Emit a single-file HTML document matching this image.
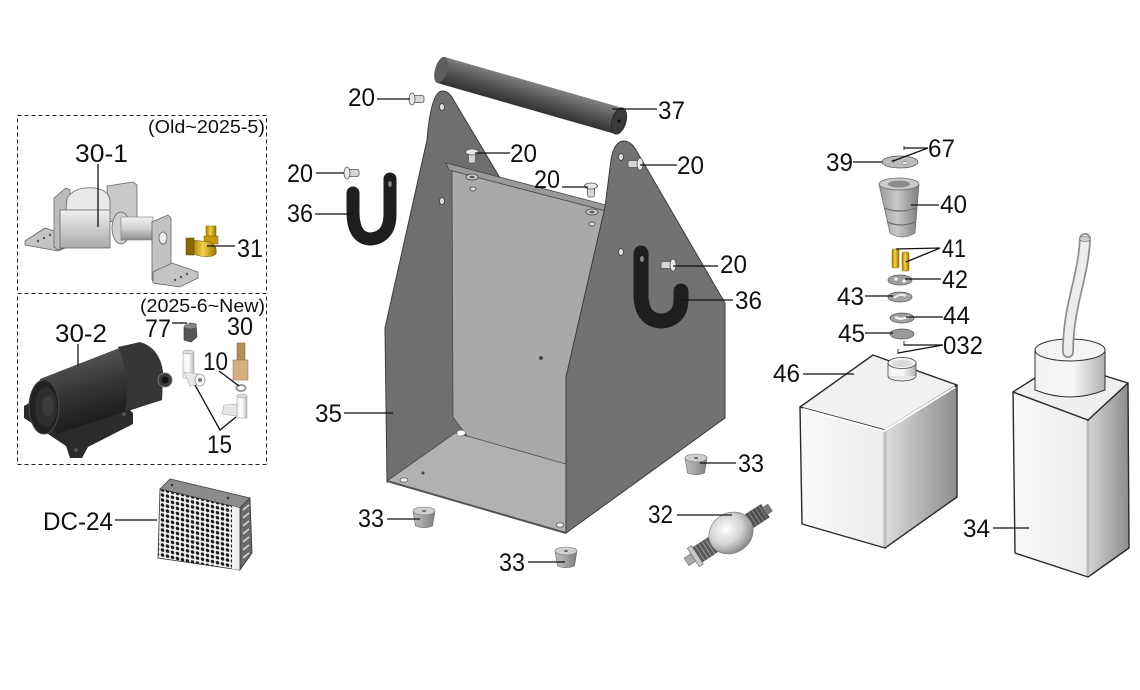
<!DOCTYPE html>
<html><head><meta charset="utf-8"><style>
html,body{margin:0;padding:0;background:#fff;}
svg{display:block;}
text{font-family:"Liberation Sans",sans-serif;font-size:25px;fill:#111;}
.sm{font-size:18px;}
.ld{stroke:#111;stroke-width:1.3;fill:none;}
</style></head><body>
<svg width="1140" height="690" viewBox="0 0 1140 690" xmlns="http://www.w3.org/2000/svg">
<defs>
<linearGradient id="gRod" gradientUnits="userSpaceOnUse" x1="444" y1="57" x2="436" y2="84">
<stop offset="0" stop-color="#7e7e7e"/><stop offset="0.45" stop-color="#545454"/><stop offset="1" stop-color="#2c2c2c"/></linearGradient>
<linearGradient id="gTankR" gradientUnits="userSpaceOnUse" x1="885" y1="0" x2="958" y2="0">
<stop offset="0" stop-color="#dcdcdc"/><stop offset="1" stop-color="#8c8c8c"/></linearGradient>
<linearGradient id="gTankL" x1="0" y1="0" x2="1" y2="0">
<stop offset="0" stop-color="#f9f9f9"/><stop offset="1" stop-color="#ececec"/></linearGradient>
<linearGradient id="gBotR" gradientUnits="userSpaceOnUse" x1="1088" y1="0" x2="1130" y2="0">
<stop offset="0" stop-color="#d4d4d4"/><stop offset="1" stop-color="#8a8a8a"/></linearGradient>
<linearGradient id="gCap" gradientUnits="userSpaceOnUse" x1="1035" y1="0" x2="1105" y2="0">
<stop offset="0" stop-color="#f2f2f2"/><stop offset="0.55" stop-color="#f6f6f6"/><stop offset="1" stop-color="#b0b0b0"/></linearGradient>
<linearGradient id="gNeck" gradientUnits="userSpaceOnUse" x1="888" y1="0" x2="916" y2="0">
<stop offset="0" stop-color="#f2f2f2"/><stop offset="0.55" stop-color="#f6f6f6"/><stop offset="1" stop-color="#b0b0b0"/></linearGradient>
<linearGradient id="gFoot" x1="0" y1="0" x2="1" y2="0">
<stop offset="0" stop-color="#bdbdbd"/><stop offset="0.4" stop-color="#a8a8a8"/><stop offset="1" stop-color="#7e7e7e"/></linearGradient>
<radialGradient id="gBulb" cx="0.45" cy="0.35" r="0.7">
<stop offset="0" stop-color="#ffffff"/><stop offset="0.5" stop-color="#d5d5d5"/><stop offset="1" stop-color="#7a7a7a"/></radialGradient>
<linearGradient id="gBrass" x1="0" y1="0" x2="1" y2="0">
<stop offset="0" stop-color="#a87c00"/><stop offset="0.45" stop-color="#f3d24a"/><stop offset="1" stop-color="#9a7000"/></linearGradient>
<linearGradient id="gCone" x1="0" y1="0" x2="1" y2="0">
<stop offset="0" stop-color="#9a9a9a"/><stop offset="0.45" stop-color="#c9c9c9"/><stop offset="1" stop-color="#7e7e7e"/></linearGradient>
<linearGradient id="gPump" gradientUnits="userSpaceOnUse" x1="80" y1="355" x2="100" y2="425">
<stop offset="0" stop-color="#555"/><stop offset="0.5" stop-color="#333"/><stop offset="1" stop-color="#1a1a1a"/></linearGradient>
<linearGradient id="gSol" x1="0" y1="0" x2="0" y2="1">
<stop offset="0" stop-color="#efefef"/><stop offset="1" stop-color="#a9a9a9"/></linearGradient>
<linearGradient id="gShaft" x1="0" y1="0" x2="0" y2="1">
<stop offset="0" stop-color="#f4f4f4"/><stop offset="0.5" stop-color="#d0d0d0"/><stop offset="1" stop-color="#8e8e8e"/></linearGradient>
<linearGradient id="gWhite" x1="0" y1="0" x2="1" y2="0">
<stop offset="0" stop-color="#f0f0f0"/><stop offset="0.5" stop-color="#ffffff"/><stop offset="1" stop-color="#b5b5b5"/></linearGradient>
<pattern id="grid" width="5" height="5" patternUnits="userSpaceOnUse" patternTransform="skewY(13)">
<rect width="5" height="5" fill="#f4f4f4"/><circle cx="2.5" cy="2.5" r="1.8" fill="#1a1a1a"/></pattern>
<g id="scrH"><rect x="0" y="-3.5" width="12" height="7" rx="2" fill="#d6d6d6" stroke="#555" stroke-width="0.8"/><ellipse cx="0" cy="0" rx="3" ry="6" fill="#e8e8e8" stroke="#555" stroke-width="0.8"/></g>
<g id="scrHr"><rect x="-12" y="-3.5" width="12" height="7" rx="2" fill="#d6d6d6" stroke="#555" stroke-width="0.8"/><ellipse cx="0" cy="0" rx="3" ry="6" fill="#e8e8e8" stroke="#555" stroke-width="0.8"/></g>
<g id="scrV"><rect x="-3.5" y="0" width="7" height="11" rx="2" fill="#d6d6d6" stroke="#555" stroke-width="0.8"/><ellipse cx="0" cy="0" rx="6.5" ry="3" fill="#e8e8e8" stroke="#555" stroke-width="0.8"/></g>
<g id="foot"><path d="M-11,-6 L11,-6 L8.5,9 Q0,12.5 -8.5,9 Z" fill="url(#gFoot)" stroke="#666" stroke-width="0.6"/><ellipse cx="0" cy="-6" rx="11" ry="4" fill="#cfcfcf" stroke="#777" stroke-width="0.6"/><ellipse cx="0" cy="-6" rx="2" ry="1" fill="#666"/></g>
</defs>
<rect width="1140" height="690" fill="#fff"/>

<!-- dashed boxes -->
<rect x="17.5" y="115.5" width="249" height="178" fill="none" stroke="#222" stroke-width="1" stroke-dasharray="4 3"/>
<rect x="17.5" y="293.5" width="249" height="171" fill="none" stroke="#222" stroke-width="1" stroke-dasharray="4 3"/>
<text class="sm" x="148" y="133" textLength="117" lengthAdjust="spacingAndGlyphs">(Old~2025-5)</text>
<text class="sm" x="140" y="312" textLength="125" lengthAdjust="spacingAndGlyphs">(2025-6~New)</text>

<!-- Solenoid 30-1 -->
<polygon points="25,241 45,228 70,236 70,246 58,251 25,245" fill="#c4c4c4" stroke="#666" stroke-width="0.8"/>
<circle cx="38" cy="241" r="1.2" fill="#555"/><circle cx="44" cy="238" r="1.2" fill="#555"/><circle cx="50" cy="235" r="1.2" fill="#555"/>
<polygon points="54,198 66,188 70,190 70,246 58,250 54,247" fill="#bcbcbc" stroke="#666" stroke-width="0.8"/>
<polygon points="107,186 133,182 137,185 137,218 108,222" fill="#c9c9c9" stroke="#666" stroke-width="0.8"/>
<path d="M66,210 L67,198 Q75,186 95,188 Q108,190 110,200 L110,212 Z" fill="#e9e9e9" stroke="#666" stroke-width="0.8"/>
<rect x="60" y="210" width="50" height="38" fill="url(#gSol)" stroke="#666" stroke-width="0.8"/>
<ellipse cx="121" cy="228" rx="9" ry="16" fill="#cfcfcf" stroke="#666" stroke-width="0.8"/>
<rect x="121" y="217" width="32" height="23" fill="url(#gShaft)" stroke="#777" stroke-width="0.6"/>
<polygon points="152,222 168,215 171,218 171,280 155,283 152,280" fill="#c2c2c2" stroke="#666" stroke-width="0.8"/>
<ellipse cx="163" cy="238" rx="4" ry="6" fill="#eee" stroke="#666" stroke-width="0.8"/>
<polygon points="153,272 172,263 198,272 198,278 180,287 153,283" fill="#c4c4c4" stroke="#666" stroke-width="0.8"/>
<circle cx="175" cy="280" r="1.2" fill="#555"/><circle cx="181" cy="277" r="1.2" fill="#555"/><circle cx="187" cy="274" r="1.2" fill="#555"/>
<!-- 31 brass -->
<rect x="206" y="226" width="10" height="12" fill="url(#gBrass)" stroke="#7a5a00" stroke-width="0.5"/>
<rect x="204" y="236" width="14" height="8" fill="#c99a10" stroke="#7a5a00" stroke-width="0.5"/>
<path d="M192,240 L210,242 Q218,246 216,254 Q212,258 200,256 L192,254 Z" fill="url(#gBrass)" stroke="#7a5a00" stroke-width="0.5"/>
<rect x="186" y="238" width="8" height="17" fill="#8a6800" stroke="#5a4500" stroke-width="0.5"/>
<text x="75" y="162" textLength="53" lengthAdjust="spacingAndGlyphs">30-1</text>
<line class="ld" x1="98" y1="164" x2="98" y2="227"/>
<text x="237" y="257" textLength="26" lengthAdjust="spacingAndGlyphs">31</text>
<line class="ld" x1="207" y1="246" x2="235" y2="246"/>

<!-- Pump 30-2 -->
<path d="M24,406 L36,399 L62,418 L118,398 L133,413 L133,424 L88,447 L82,458 L70,458 L66,446 L24,418 Z" fill="#2a2a2a"/>
<circle cx="32" cy="412" r="2" fill="#555"/><circle cx="124" cy="414" r="2" fill="#555"/><circle cx="76" cy="450" r="2" fill="#555"/>
<path d="M40,379 L122,347 L140,343 Q160,349 163,372 L162,400 L56,434 Z" fill="url(#gPump)"/>
<path d="M118,347 L140,342 Q160,348 163,372 L162,400 L125,411 Q132,380 118,347 Z" fill="#363636"/>
<ellipse cx="44" cy="407" rx="15" ry="27" fill="#222" stroke="#4a4a4a" stroke-width="1"/>
<ellipse cx="46" cy="407" rx="11" ry="20" fill="#2e2e2e"/>
<ellipse cx="48" cy="406" rx="6" ry="10" fill="#3c3c3c"/>
<circle cx="165" cy="380" r="7" fill="#3a3a3a" stroke="#777" stroke-width="1"/>
<circle cx="165" cy="380" r="3.5" fill="#111"/>
<text x="55" y="342" textLength="52" lengthAdjust="spacingAndGlyphs">30-2</text>
<line class="ld" x1="78" y1="344" x2="78" y2="366"/>

<!-- fittings -->
<path d="M184,327 L190,323 L196,324 L197,337 L191,342 L184,340 Z" fill="#555" stroke="#333" stroke-width="0.6"/>
<ellipse cx="190" cy="326" rx="6" ry="2.5" fill="#888"/>
<text x="145" y="337" textLength="26" lengthAdjust="spacingAndGlyphs">77</text>
<line class="ld" x1="172" y1="323" x2="187" y2="323"/>
<rect x="237" y="343" width="8" height="18" fill="#b58c5a" stroke="#7a5a30" stroke-width="0.5"/>
<rect x="233" y="360" width="15" height="20" fill="#d4b080" stroke="#8a6a40" stroke-width="0.5"/>
<text x="227" y="335" textLength="26" lengthAdjust="spacingAndGlyphs">30</text>
<ellipse cx="241" cy="388" rx="4.5" ry="3" fill="none" stroke="#999" stroke-width="2"/>
<text x="203" y="370" textLength="25" lengthAdjust="spacingAndGlyphs">10</text>
<line class="ld" x1="219" y1="371" x2="239" y2="386"/>
<rect x="183" y="352" width="11" height="26" fill="url(#gWhite)" stroke="#aaa" stroke-width="0.6"/>
<ellipse cx="188.5" cy="352" rx="5.5" ry="2" fill="#ddd" stroke="#999" stroke-width="0.5"/>
<path d="M184,372 L198,374 L204,384 L190,386 Z" fill="#e8e8e8" stroke="#aaa" stroke-width="0.6"/>
<ellipse cx="200" cy="380" rx="5" ry="6" fill="#f2f2f2" stroke="#999" stroke-width="0.8"/>
<circle cx="200" cy="380" r="2" fill="#777"/>
<rect x="237" y="396" width="10" height="22" fill="url(#gWhite)" stroke="#aaa" stroke-width="0.6"/>
<ellipse cx="242" cy="396" rx="5" ry="2" fill="#ddd" stroke="#999" stroke-width="0.5"/>
<path d="M237,404 L224,405 L222,414 L237,416 Z" fill="#e6e6e6" stroke="#aaa" stroke-width="0.6"/>
<text x="207" y="453" textLength="25" lengthAdjust="spacingAndGlyphs">15</text>
<polyline class="ld" points="195,385 220,430 236,417"/>

<!-- DC-24 -->
<polygon points="160,489 170,479 250,498 240,508" fill="#8c8c8c" stroke="#444" stroke-width="0.8"/>
<circle cx="172" cy="485" r="1.3" fill="#333"/><circle cx="228" cy="498" r="1.3" fill="#333"/>
<polygon points="160,489 240,508 240,570 158,558" fill="url(#grid)" stroke="#333" stroke-width="0.8"/>
<polygon points="232,506 240,508 240,570 232,569" fill="#f0f0f0"/>
<polygon points="240,508 250,498 252,553 240,570" fill="#6a6a6a" stroke="#333" stroke-width="0.8"/>
<path d="M243,510 L249,505 M243,518 L249,513 M243,526 L249,521 M243,534 L249,529 M243,542 L249,537 M243,550 L249,545 M243,558 L249,553" stroke="#ddd" stroke-width="1.5"/>
<text x="43" y="530" textLength="70" lengthAdjust="spacingAndGlyphs">DC-24</text>
<line class="ld" x1="115" y1="520" x2="157" y2="520"/>

<!-- Main box 35 -->
<path d="M385,328 L427,140 Q431,92 442,91 Q449,91 453,99 L500,178 L470,437 L387,482 Z" fill="#6f6f6f" stroke="#3c3c3c" stroke-width="1"/>
<path d="M452,170 L606,211 L566,470 L467,436 L453,417 Z" fill="#a9a9a9" stroke="#4a4a4a" stroke-width="0.8"/>
<polygon points="446,163 606,205 606,211 449,170" fill="#9a9a9a" stroke="#444" stroke-width="0.8"/>
<ellipse cx="472" cy="177" rx="6" ry="3" fill="#cfcfcf" stroke="#444" stroke-width="0.8"/>
<ellipse cx="472" cy="177" rx="2.5" ry="1.3" fill="#555"/>
<ellipse cx="473" cy="189" rx="3" ry="2" fill="#ddd" stroke="#444" stroke-width="0.7"/>
<ellipse cx="592" cy="212" rx="6" ry="3" fill="#cfcfcf" stroke="#444" stroke-width="0.8"/>
<ellipse cx="592" cy="212" rx="2.5" ry="1.3" fill="#555"/>
<ellipse cx="592" cy="224" rx="3" ry="2" fill="#ddd" stroke="#444" stroke-width="0.7"/>
<circle cx="541" cy="358" r="2" fill="#444"/>
<path d="M387,481 L455,433 L467,436 L566,464 L566,533 Z" fill="#b1b1b1" stroke="#4a4a4a" stroke-width="0.8"/>
<path d="M387,481 L566,533" stroke="#555" stroke-width="2"/>
<ellipse cx="461" cy="433" rx="4" ry="2.5" fill="#fff"/>
<ellipse cx="404" cy="480" rx="4" ry="2.2" fill="#eee" stroke="#444" stroke-width="0.7"/>
<circle cx="423" cy="473" r="1.5" fill="#444"/>
<ellipse cx="560" cy="525" rx="4" ry="2.2" fill="#eee" stroke="#444" stroke-width="0.7"/>
<ellipse cx="442" cy="107" rx="2.5" ry="3.5" fill="#ddd" stroke="#333" stroke-width="0.7"/>
<ellipse cx="442" cy="201" rx="2.5" ry="3.5" fill="#ddd" stroke="#333" stroke-width="0.7"/>
<path d="M566,377 L605,207 L611,160 Q614,142 623,141 Q631,141 636,150 L725,303 L725,418 L566,533 Z" fill="#727272" stroke="#3c3c3c" stroke-width="1"/>
<ellipse cx="621" cy="157" rx="2.5" ry="3.5" fill="#ddd" stroke="#333" stroke-width="0.7"/>
<ellipse cx="621" cy="252" rx="2.5" ry="3.5" fill="#ddd" stroke="#333" stroke-width="0.7"/>
<text x="315" y="422" textLength="27" lengthAdjust="spacingAndGlyphs">35</text>
<line class="ld" x1="344" y1="413" x2="393" y2="413"/>

<!-- Rod 37 -->
<line x1="441" y1="70" x2="619" y2="121" stroke="url(#gRod)" stroke-width="27"/>
<ellipse cx="441" cy="70" rx="6" ry="13.5" transform="rotate(16 441 70)" fill="#5e5e5e"/>
<ellipse cx="619" cy="121" rx="7" ry="13.5" transform="rotate(16 619 121)" fill="#3a3a3a" stroke="#222" stroke-width="0.8"/>
<circle cx="619" cy="121" r="1.6" fill="#111"/>
<text x="658" y="119" textLength="27" lengthAdjust="spacingAndGlyphs">37</text>
<line class="ld" x1="612" y1="109" x2="657" y2="109"/>

<!-- screws 20 -->
<use href="#scrH" x="412" y="99"/>
<text x="348" y="106" textLength="27" lengthAdjust="spacingAndGlyphs">20</text>
<line class="ld" x1="377" y1="99" x2="410" y2="99"/>
<use href="#scrV" x="472" y="152"/>
<text x="510" y="162" textLength="27" lengthAdjust="spacingAndGlyphs">20</text>
<line class="ld" x1="475" y1="153" x2="510" y2="153"/>
<use href="#scrHr" x="640" y="164"/>
<text x="677" y="174" textLength="27" lengthAdjust="spacingAndGlyphs">20</text>
<line class="ld" x1="640" y1="165" x2="677" y2="165"/>
<use href="#scrV" x="591" y="186"/>
<text x="534" y="188" textLength="26" lengthAdjust="spacingAndGlyphs">20</text>
<line class="ld" x1="562" y1="187" x2="588" y2="187"/>
<use href="#scrH" x="347" y="173"/>
<text x="287" y="182" textLength="26" lengthAdjust="spacingAndGlyphs">20</text>
<line class="ld" x1="316" y1="173" x2="344" y2="173"/>
<use href="#scrHr" x="673" y="265"/>
<text x="720" y="273" textLength="27" lengthAdjust="spacingAndGlyphs">20</text>
<line class="ld" x1="673" y1="266" x2="718" y2="266"/>

<!-- brackets 36 -->
<path d="M353,193 L353,214 Q354,239 371,239 Q390,237 390,214 L390,179" fill="none" stroke="#1e1e1e" stroke-width="13" stroke-linecap="round"/>
<ellipse cx="390" cy="184" rx="1.8" ry="3" fill="#888"/>
<text x="287" y="222" textLength="26" lengthAdjust="spacingAndGlyphs">36</text>
<line class="ld" x1="315" y1="214" x2="353" y2="214"/>
<path d="M641,253 L641,298 Q643,321 662,321 Q681,319 681,299 L681,291" fill="none" stroke="#1e1e1e" stroke-width="15" stroke-linecap="round"/>
<ellipse cx="642" cy="259" rx="2" ry="3" fill="#888"/>
<text x="735" y="309" textLength="27" lengthAdjust="spacingAndGlyphs">36</text>
<line class="ld" x1="682" y1="300" x2="733" y2="300"/>

<!-- feet 33 -->
<use href="#foot" x="696" y="464"/>
<text x="738" y="472" textLength="26" lengthAdjust="spacingAndGlyphs">33</text>
<line class="ld" x1="700" y1="463" x2="736" y2="463"/>
<use href="#foot" x="424" y="517"/>
<text x="358" y="527" textLength="26" lengthAdjust="spacingAndGlyphs">33</text>
<line class="ld" x1="387" y1="519" x2="420" y2="519"/>
<use href="#foot" x="566" y="557"/>
<text x="499" y="571" textLength="26" lengthAdjust="spacingAndGlyphs">33</text>
<line class="ld" x1="528" y1="562" x2="565" y2="562"/>

<!-- 32 bulb -->
<g transform="translate(731,533) rotate(-33)">
<rect x="14" y="-8" width="27" height="16" fill="#4e4e4e"/>
<path d="M18,-8 v16 M22,-8 v16 M26,-8 v16 M30,-8 v16 M34,-8 v16 M38,-8 v16" stroke="#888" stroke-width="1"/>
<rect x="40" y="-4.5" width="7" height="9" fill="#777"/>
<rect x="-40" y="-9" width="24" height="18" fill="#5a5a5a"/>
<path d="M-37,-9 v18 M-33,-9 v18 M-29,-9 v18 M-25,-9 v18 M-21,-9 v18" stroke="#999" stroke-width="1"/>
<rect x="-45" y="-11" width="5" height="22" fill="#c8c8c8" stroke="#666" stroke-width="0.6"/>
<rect x="-53" y="-4.5" width="8" height="9" fill="#aaa" stroke="#666" stroke-width="0.6"/>
<ellipse cx="0" cy="0" rx="23" ry="20" fill="url(#gBulb)" stroke="#777" stroke-width="0.6"/>
</g>
<text x="648" y="523" textLength="25" lengthAdjust="spacingAndGlyphs">32</text>
<line class="ld" x1="677" y1="515" x2="732" y2="515"/>

<!-- right column small parts -->
<ellipse cx="900" cy="162" rx="18" ry="6" fill="#bdbdbd" stroke="#555" stroke-width="0.8"/>
<circle cx="893" cy="161" r="1.5" fill="#555"/><ellipse cx="905" cy="163" rx="3" ry="1.5" fill="#eee" stroke="#666" stroke-width="0.5"/>
<rect x="903" y="146" width="2" height="4" fill="#999"/>
<text x="928" y="157" textLength="27" lengthAdjust="spacingAndGlyphs">67</text>
<polyline class="ld" points="904,148 928,148 893,161"/>
<text x="826" y="171" textLength="27" lengthAdjust="spacingAndGlyphs">39</text>
<line class="ld" x1="853" y1="162" x2="882" y2="162"/>

<path d="M879,184 L890,233 Q902,241 915,233 L919,184 Z" fill="url(#gCone)" stroke="#666" stroke-width="0.7"/>
<path d="M884,208 Q900,214 916,208 M887,222 Q901,228 915,222" stroke="#6a6a6a" stroke-width="1.2" fill="none"/>
<ellipse cx="899" cy="184" rx="20" ry="6" fill="#c9c9c9" stroke="#666" stroke-width="0.7"/>
<ellipse cx="899" cy="184" rx="11" ry="3.5" fill="#8c8c8c"/>
<text x="940" y="213" textLength="27" lengthAdjust="spacingAndGlyphs">40</text>
<line class="ld" x1="911" y1="205" x2="939" y2="205"/>

<rect x="892" y="249" width="7" height="19" rx="1.5" fill="url(#gBrass)" stroke="#8a6a00" stroke-width="0.5"/>
<rect x="902" y="252" width="7" height="19" rx="1.5" fill="url(#gBrass)" stroke="#8a6a00" stroke-width="0.5"/>
<text x="942" y="257" textLength="24" lengthAdjust="spacingAndGlyphs">41</text>
<polyline class="ld" points="896,249 940,248 906,262"/>

<ellipse cx="900" cy="280" rx="12" ry="5" fill="#9e9e9e" stroke="#555" stroke-width="0.7"/>
<circle cx="896" cy="279" r="1.8" fill="#eee"/><circle cx="904" cy="281" r="1.8" fill="#eee"/>
<text x="942" y="288" textLength="26" lengthAdjust="spacingAndGlyphs">42</text>
<line class="ld" x1="905" y1="279" x2="941" y2="279"/>

<ellipse cx="900" cy="297" rx="12" ry="5" fill="#a5a5a5" stroke="#555" stroke-width="0.7"/>
<path d="M894,298 Q900,293 906,296" stroke="#eee" stroke-width="2" fill="none"/>
<text x="837" y="305" textLength="27" lengthAdjust="spacingAndGlyphs">43</text>
<line class="ld" x1="865" y1="296" x2="893" y2="296"/>

<ellipse cx="902" cy="318" rx="12" ry="5" fill="#a0a0a0" stroke="#555" stroke-width="0.7"/>
<path d="M895,317 Q902,321 909,316" stroke="#f2f2f2" stroke-width="2.2" fill="none"/>
<text x="943" y="324" textLength="27" lengthAdjust="spacingAndGlyphs">44</text>
<line class="ld" x1="906" y1="317" x2="943" y2="317"/>

<ellipse cx="902" cy="334" rx="12" ry="5" fill="#999" stroke="#555" stroke-width="0.7"/>
<text x="838" y="342" textLength="27" lengthAdjust="spacingAndGlyphs">45</text>
<line class="ld" x1="865" y1="333" x2="893" y2="333"/>

<rect x="903" y="341" width="2" height="5" fill="#999"/>
<rect x="897" y="349" width="2" height="5" fill="#999"/>
<text x="943" y="354" textLength="40" lengthAdjust="spacingAndGlyphs">032</text>
<polyline class="ld" points="904,345 943,345 898,353"/>

<!-- Tank 46 -->
<g stroke="#2a2a2a" stroke-width="1.4" stroke-linejoin="round">
<polygon points="800,407 885,430 885,548 802,524" fill="url(#gTankL)"/>
<polygon points="885,430 957,385 957,497 885,548" fill="url(#gTankR)"/>
<polygon points="873,355 800,407 885,430 957,385" fill="#f1f1f1"/>
</g>
<path d="M885,431 L885,547" stroke="#bbb" stroke-width="3"/>
<path d="M803,409 L884,431 L955,387" stroke="#fff" stroke-width="2" fill="none"/>
<ellipse cx="902" cy="376" rx="14" ry="5" fill="#e6e6e6" stroke="#444" stroke-width="0.8"/>
<rect x="888" y="363" width="28" height="13" fill="url(#gNeck)"/>
<path d="M888,363 L888,376 M916,363 L916,376" stroke="#444" stroke-width="0.8"/>
<ellipse cx="902" cy="363" rx="14" ry="5.5" fill="#f4f4f4" stroke="#444" stroke-width="0.8"/>
<ellipse cx="902" cy="363.5" rx="10" ry="3.5" fill="#dadada"/>
<text x="773" y="382" textLength="27" lengthAdjust="spacingAndGlyphs">46</text>
<line class="ld" x1="803" y1="374" x2="854" y2="374"/>

<!-- Bottle 34 -->
<g stroke="#2a2a2a" stroke-width="1.4" stroke-linejoin="round">
<polygon points="1013,392 1088,420 1088,577 1015,553" fill="url(#gTankL)"/>
<polygon points="1088,420 1128,383 1129,548 1088,577" fill="url(#gBotR)"/>
<polygon points="1013,392 1060,362 1128,383 1088,420" fill="#efefef"/>
</g>
<path d="M1088,421 L1088,576" stroke="#bbb" stroke-width="3"/>
<path d="M1035,350 L1035,390 Q1070,404 1105,390 L1105,350 Z" fill="url(#gCap)" stroke="#333" stroke-width="1"/>
<ellipse cx="1070" cy="350" rx="35" ry="11" fill="#f4f4f4" stroke="#333" stroke-width="1"/>
<path d="M1085,239 C1083,280 1068,305 1068,352" fill="none" stroke="#8e8e8e" stroke-width="12" stroke-linecap="round"/>
<path d="M1085,239 C1083,280 1068,305 1068,352" fill="none" stroke="#ececec" stroke-width="8.5" stroke-linecap="round"/>
<ellipse cx="1085" cy="239" rx="5.5" ry="2.5" fill="#cfcfcf" stroke="#888" stroke-width="0.8"/>
<text x="963" y="537" textLength="27" lengthAdjust="spacingAndGlyphs">34</text>
<line class="ld" x1="993" y1="528" x2="1029" y2="528"/>
</svg>
</body></html>
